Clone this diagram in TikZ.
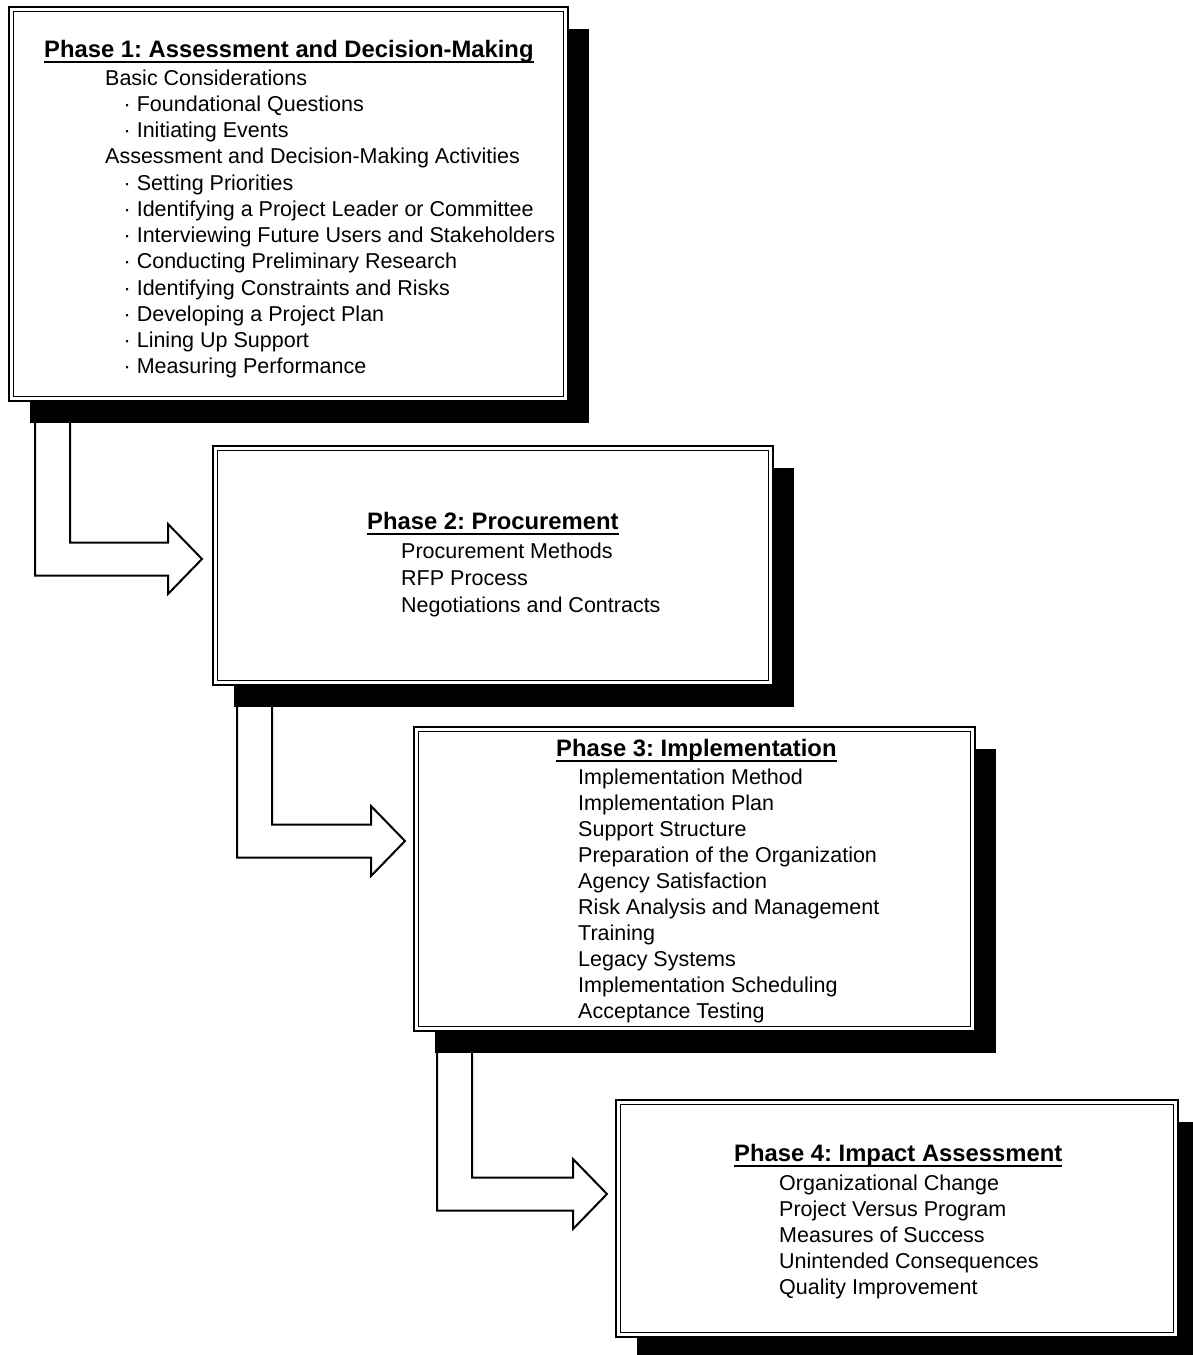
\documentclass[tikz,border=0pt]{standalone}
\usepackage{fontspec}
\setmainfont{Liberation Sans}
\usetikzlibrary{calc,shadows}
\begin{document}
\frenchspacing
\begin{tikzpicture}[x=1pt,y=-1pt,
  phasebox/.style={draw, line width=2.4pt, fill=white, inner sep=0pt, outer sep=0pt,
    general shadow={fill=black, shadow xshift=21pt, shadow yshift=-22pt}},
  innerframe/.style={draw, line width=1.4pt},
  heading/.style={anchor=base west, inner sep=0pt, font=\fontsize{23.8}{28}\selectfont\bfseries},
  itemtext/.style={anchor=base west, inner sep=0pt, font=\fontsize{21.5}{26}\selectfont},
  uline/.style={line width=2pt},
  blockarrow/.style={draw, line width=2pt, line join=miter}]
\useasboundingbox (0,0) rectangle (1192,1355);
\fill[white] (0,0) rectangle (1192,1355);

% boxes
\node[phasebox, minimum width=559, minimum height=394] (b1) at (288.5,204) {};
\node[phasebox, minimum width=560, minimum height=239] (b2) at (493,565.5) {};
\node[phasebox, minimum width=561, minimum height=304] (b3) at (694.5,879) {};
\node[phasebox, minimum width=562, minimum height=237] (b4) at (897,1218.5) {};
\foreach \b in {b1,b2,b3,b4}{
  \draw[innerframe] ([shift={(4.4,4.4)}]\b.north west) rectangle ([shift={(-4.4,-4.4)}]\b.south east);
}

% arrows
\coordinate (a1s) at (35,423);  \coordinate (a1t) at (202,559);
\coordinate (a2s) at (237,707); \coordinate (a2t) at (405,841);
\coordinate (a3s) at (437,1053); \coordinate (a3t) at (607,1194);
\foreach \a in {a1,a2,a3}{
  \draw[blockarrow] (\a s) |- ($(\a t)+(-34,16.5)$) -- ++(0,18.5) -- (\a t)
     -- ++(-34,-35) -- ++(0,18.5) -| ($(\a s)+(35,0)$);
}

% Phase 1 text
\node[heading] (h1) at (44,57.5) {Phase 1: Assessment and Decision-Making};
\draw[uline] ([yshift=-4.5pt]h1.base west) -- ([yshift=-4.5pt]h1.base east);
\foreach \xx/\t [count=\i] in {105/Basic Considerations, 123.5/· Foundational Questions,
  123.5/· Initiating Events, 105/Assessment and Decision-Making Activities,
  123.5/· Setting Priorities, 123.5/· Identifying a Project Leader or Committee,
  123.5/· Interviewing Future Users and Stakeholders, 123.5/· Conducting Preliminary Research,
  123.5/· Identifying Constraints and Risks, 123.5/· Developing a Project Plan,
  123.5/· Lining Up Support, 123.5/· Measuring Performance}{
  \node[itemtext] (p1-\i) at (\xx,{85+(\i-1)*26.27}) {\t};
}

% Phase 2 text
\node[heading] (h2) at (367,529) {Phase 2: Procurement};
\draw[uline] ([yshift=-4.5pt]h2.base west) -- ([yshift=-4.5pt]h2.base east);
\foreach \t [count=\i] in {Procurement Methods, RFP Process, Negotiations and Contracts}{
  \node[itemtext] (p2-\i) at (401,{558.5+(\i-1)*27.2}) {\t};
}

% Phase 3 text
\node[heading] (h3) at (556,756) {Phase 3: Implementation};
\draw[uline] ([yshift=-4.5pt]h3.base west) -- ([yshift=-4.5pt]h3.base east);
\foreach \t [count=\i] in {Implementation Method, Implementation Plan, Support Structure,
  Preparation of the Organization, Agency Satisfaction, Risk Analysis and Management,
  Training, Legacy Systems, Implementation Scheduling, Acceptance Testing}{
  \node[itemtext] (p3-\i) at (578,{784+(\i-1)*26.1}) {\t};
}

% Phase 4 text
\node[heading] (h4) at (734,1161) {Phase 4: Impact Assessment};
\draw[uline] ([yshift=-4.5pt]h4.base west) -- ([yshift=-4.5pt]h4.base east);
\foreach \t [count=\i] in {Organizational Change, Project Versus Program, Measures of Success,
  Unintended Consequences, Quality Improvement}{
  \node[itemtext] (p4-\i) at (779,{1190+(\i-1)*26}) {\t};
}
\end{tikzpicture}
\end{document}
